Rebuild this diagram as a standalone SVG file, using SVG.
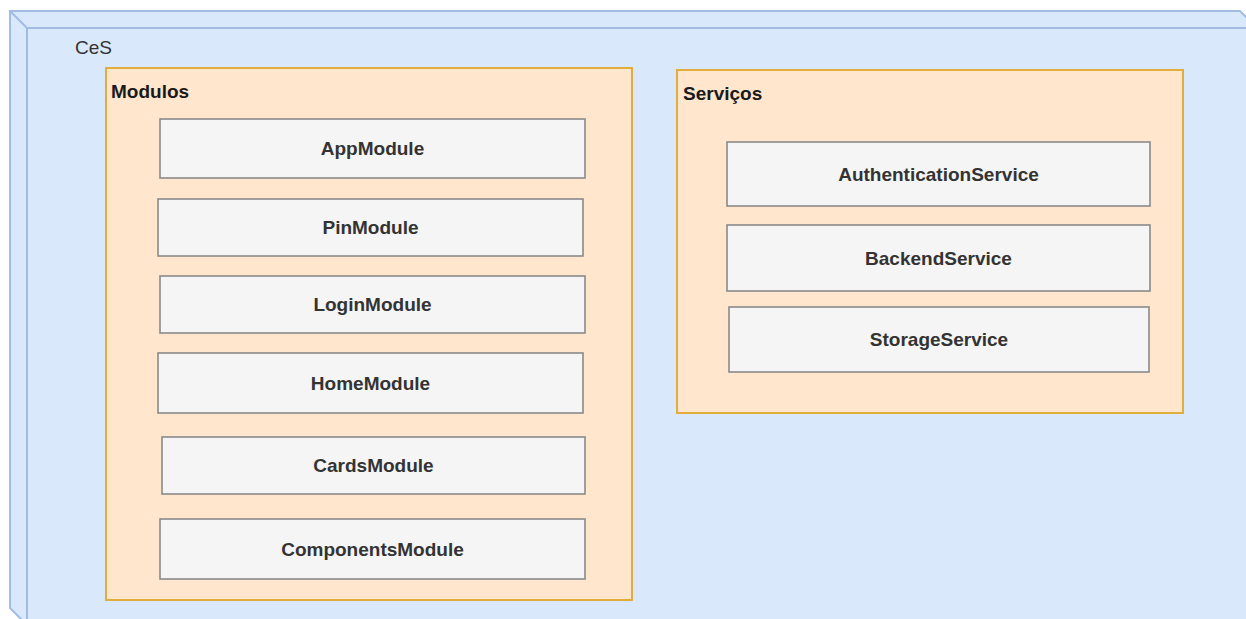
<svg xmlns="http://www.w3.org/2000/svg" width="1246" height="619" viewBox="0 0 1246 619">
  <style>
    .node3d { fill: #dae8fc; stroke: #a3bce4; stroke-width: 2; stroke-linejoin: miter; }
    .edge3d { fill: none; stroke: #a3bce4; stroke-width: 2; }
    .group { fill: #ffe6cc; stroke: #e2ad3d; stroke-width: 2; }
    .item { fill: #f5f5f5; stroke: #8a8a8a; stroke-width: 1.6; }
    .title { font-family: "Liberation Sans", Arial, sans-serif; font-size: 19px; font-weight: bold; fill: #1a1a1a; }
    .label { font-family: "Liberation Sans", Arial, sans-serif; font-size: 19px; font-weight: bold; fill: #333333; text-anchor: middle; }
    .ces { font-family: "Liberation Sans", Arial, sans-serif; font-size: 19px; fill: #333333; }
  </style>
  <rect x="0" y="0" width="1246" height="619" fill="#ffffff"/>

  <!-- outer 3D node: CeS -->
  <g id="ces">
    <path class="node3d" d="M10,11 L1240,11 L1258,29 L1258,640 L27,640 L27,625 L10,608 Z"/>
    <path class="edge3d" d="M10,11 L27,28 M27,28 L1258,28 M27,28 L27,640"/>
    <text class="ces" x="75" y="54">CeS</text>
  </g>

  <!-- module container -->
  <g id="modulos">
    <rect class="group" x="106" y="68" width="526" height="532"/>
    <text class="title" x="111" y="98">Modulos</text>
  </g>

  <!-- service container -->
  <g id="servicos">
    <rect class="group" x="677" y="70" width="506" height="343"/>
    <text class="title" x="683" y="100">Serviços</text>
  </g>

  <g id="app-module">
    <rect class="item" x="160" y="119" width="425" height="59"/>
    <text class="label" x="372.5" y="155.3">AppModule</text>
  </g>
  <g id="pin-module">
    <rect class="item" x="158" y="199" width="425" height="57"/>
    <text class="label" x="370.5" y="234.3">PinModule</text>
  </g>
  <g id="login-module">
    <rect class="item" x="160" y="276" width="425" height="57"/>
    <text class="label" x="372.5" y="311.3">LoginModule</text>
  </g>
  <g id="home-module">
    <rect class="item" x="158" y="353" width="425" height="60"/>
    <text class="label" x="370.5" y="389.8">HomeModule</text>
  </g>
  <g id="cards-module">
    <rect class="item" x="162" y="437" width="423" height="57"/>
    <text class="label" x="373.5" y="472.3">CardsModule</text>
  </g>
  <g id="components-module">
    <rect class="item" x="160" y="519" width="425" height="60"/>
    <text class="label" x="372.5" y="555.8">ComponentsModule</text>
  </g>

  <g id="authentication-service">
    <rect class="item" x="727" y="142" width="423" height="64"/>
    <text class="label" x="938.5" y="180.8">AuthenticationService</text>
  </g>
  <g id="backend-service">
    <rect class="item" x="727" y="225" width="423" height="66"/>
    <text class="label" x="938.5" y="264.8">BackendService</text>
  </g>
  <g id="storage-service">
    <rect class="item" x="729" y="307" width="420" height="65"/>
    <text class="label" x="939" y="346.3">StorageService</text>
  </g>

  <!-- no connectors in this view -->
  <g id="connectors"/>
</svg>
